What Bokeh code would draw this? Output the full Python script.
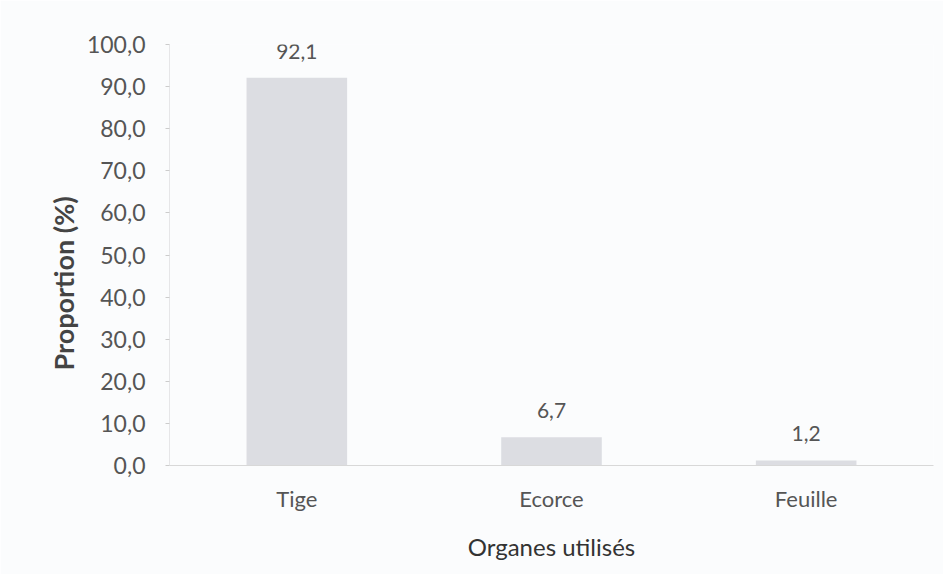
from bokeh.plotting import figure
from bokeh.models import ColumnDataSource, FixedTicker, Range1d, Title
from bokeh.core.properties import value
from bokeh.embed import file_html
from bokeh.resources import INLINE

categories = ["Tige", "Ecorce", "Feuille"]
proportions = [92.1, 6.7, 1.2]
y_ticks = [0, 10, 20, 30, 40, 50, 60, 70, 80, 90, 100]
y_tick_labels = ["0,0", "10,0", "20,0", "30,0", "40,0", "50,0", "60,0", "70,0", "80,0", "90,0", "100,0"]
bar_labels = ["92,1", "6,7", "1,2"]
y_title = "Proportion (%)"
x_title = "Organes utilisés"

src = ColumnDataSource(dict(cat=categories, val=proportions, lab=bar_labels))

p = figure(x_range=categories, y_range=Range1d(0, 100), width=943, height=574,
           output_backend="svg", toolbar_location=None,
           min_border_left=169, min_border_right=10, min_border_top=44, min_border_bottom=109)
p.background_fill_color = "#fbfcfd"
p.border_fill_color = "#fbfcfd"
p.outline_line_color = None
p.xgrid.grid_line_color = None
p.ygrid.grid_line_color = None

fnt = "Lato"
p.vbar(x="cat", top="val", width=0.395, source=src, fill_color="#dcdde2", line_color=None)
p.text(x="cat", y="val", text="lab", source=src, y_offset=-19, text_align="center",
       text_baseline="bottom", text_font=value(fnt), text_font_size="21px", text_color="#555555")

p.yaxis.ticker = FixedTicker(ticks=y_ticks)
p.yaxis.major_label_overrides = {t: l for t, l in zip(y_ticks, y_tick_labels)}
p.yaxis.major_label_text_font = fnt
p.yaxis.major_label_text_font_size = "23px"
p.yaxis.major_label_text_color = "#555555"
p.yaxis.major_label_standoff = 20
p.yaxis.axis_line_color = "#e6e6e8"
p.yaxis.major_tick_line_color = "#cccccc"
p.yaxis.major_tick_in = 0
p.yaxis.major_tick_out = 4
p.yaxis.minor_tick_line_color = None

# y-axis title as a side title, anchored from the bottom like the original
p.add_layout(Title(text=y_title, align="left", offset=95, standoff=8,
                   text_font=fnt, text_font_style="bold", text_font_size="27px",
                   text_color="#444444"), "left")

p.xaxis.axis_label = x_title
p.xaxis.axis_label_text_font = fnt
p.xaxis.axis_label_text_font_style = "normal"
p.xaxis.axis_label_text_font_size = "24px"
p.xaxis.axis_label_text_color = "#333333"
p.xaxis.axis_label_standoff = 17
p.xaxis.major_label_text_font = fnt
p.xaxis.major_label_text_font_size = "22px"
p.xaxis.major_label_text_color = "#555555"
p.xaxis.major_label_standoff = 19
p.xaxis.axis_line_color = "#d8d8d8"
p.xaxis.major_tick_line_color = None
p.xaxis.major_tick_out = 0
p.xaxis.minor_tick_line_color = None

open("out.html", "w").write(file_html(p, INLINE))
